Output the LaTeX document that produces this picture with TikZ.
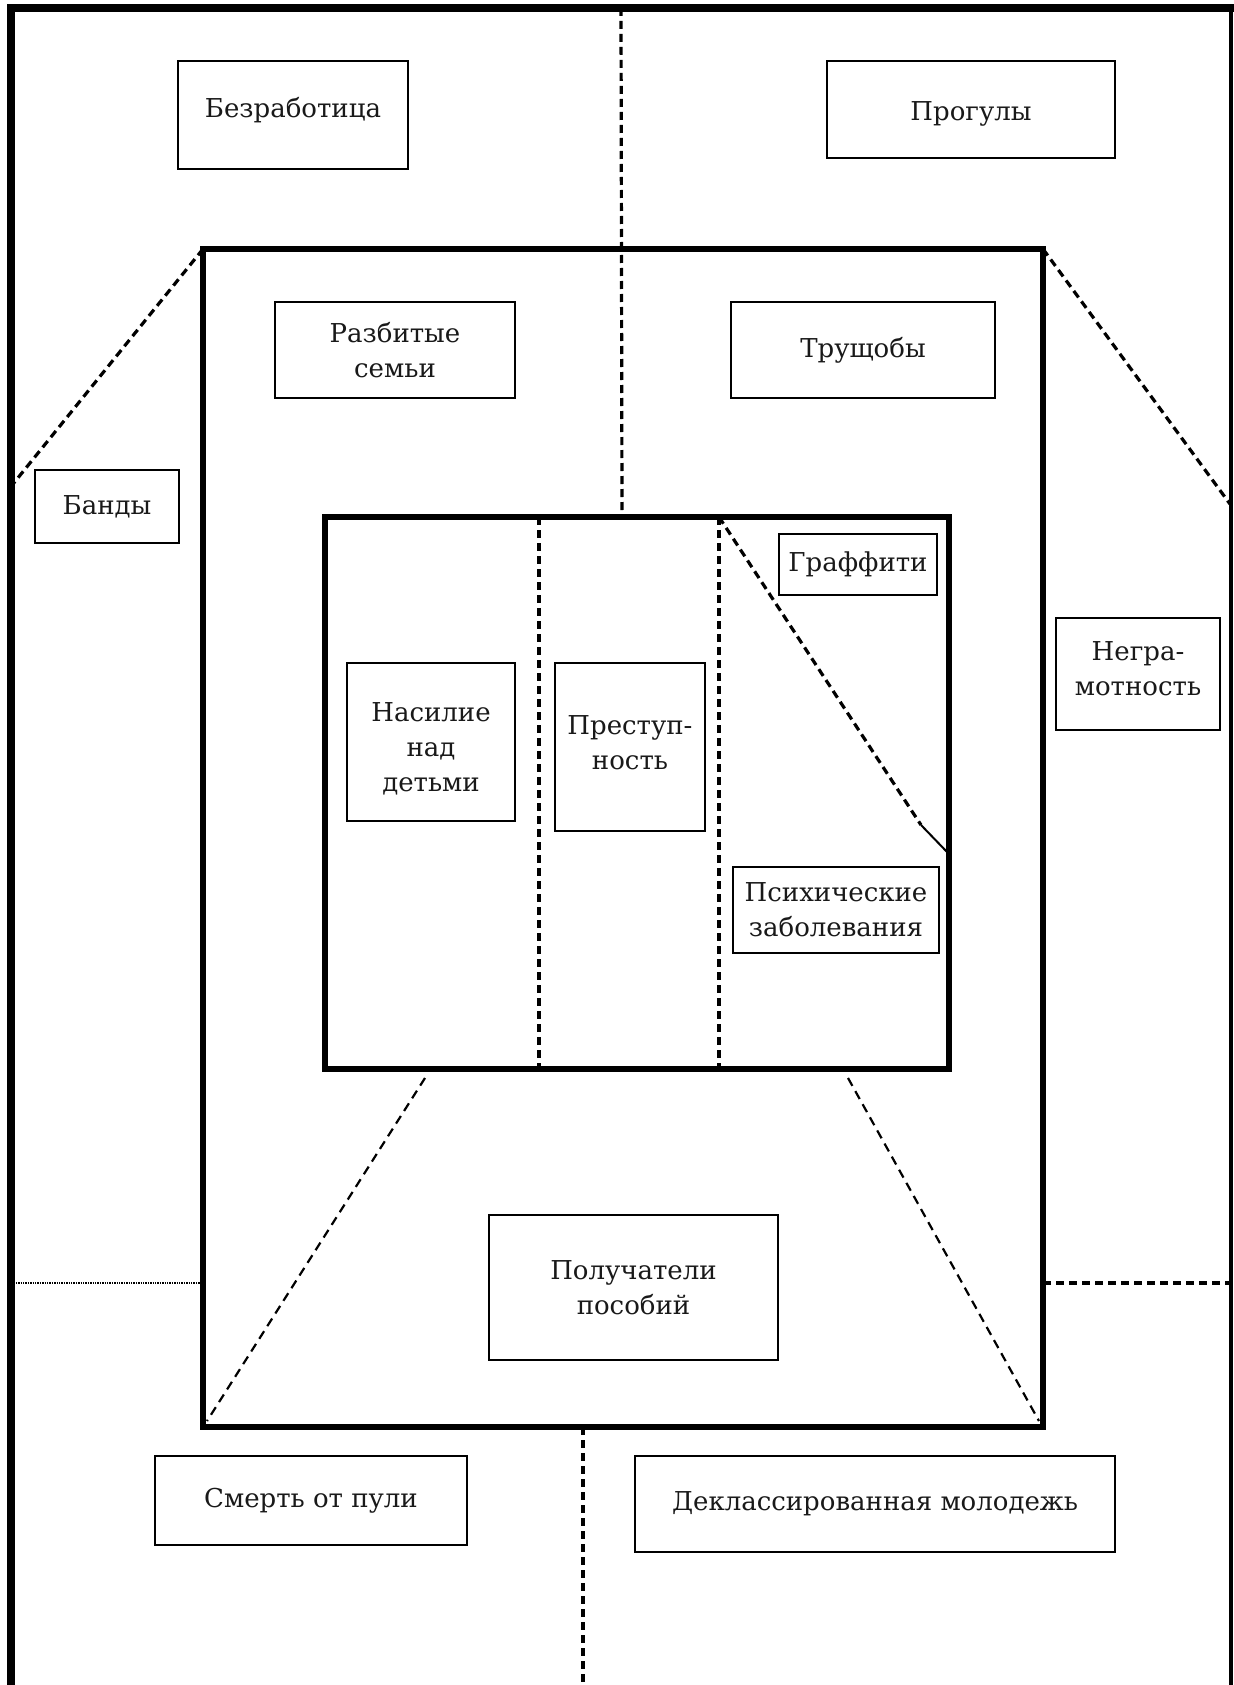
\documentclass[tikz,border=0pt]{standalone}
\usepackage{fontspec}
\setmainfont{DejaVu Serif}
\newcommand{\lift}[2]{\raisebox{#1}[\height][\depth]{#2}}
\newcommand{\stk}[1]{\begin{tabular}{@{}c@{}}#1\end{tabular}}
\begin{document}
\begin{tikzpicture}[x=0.5pt,y=-0.5pt,
  lbl/.style={draw, line width=1pt, inner sep=0pt, align=center,
    font=\fontsize{13}{17.5}\selectfont, text=black!90},
  heavy/.style={line width=4pt},
  frame/.style={line width=3pt, line join=miter},
  dsh/.style={line width=1.6pt, dash pattern=on 4pt off 2.5pt},
  thindsh/.style={line width=1.1pt, dash pattern=on 4.5pt off 3pt},
  dotl/.style={line width=1.4pt, dash pattern=on 0.7pt off 0.5pt}]
\useasboundingbox (0,0) rectangle (1234,1685);
\fill[white] (0,0) rectangle (1234,1685);

% outer frame
\coordinate (oTL) at (11,8);
\coordinate (oBL) at (11,1685);
\coordinate (oTR) at (1234,8);
\coordinate (rT) at (1231,8);
\coordinate (rB) at (1231,1685);
\draw[heavy] (oBL) -- (oTL) -- (oTR);
\draw[line width=1.6pt] (rT) -- (rB);

% middle and inner frames
\coordinate (mTL) at (203,249);
\coordinate (mTR) at (1043,249);
\coordinate (mBR) at (1043,1427);
\coordinate (mBL) at (203,1427);
\coordinate (iTL) at (325,517);
\coordinate (iTR) at (949,517);
\coordinate (iBR) at (949,1069);
\coordinate (iBL) at (325,1069);

% dashed partition lines
\coordinate (topA) at (621,8);
\coordinate (topB) at (622,517);
\draw[dsh] (topA) -- (topB);
\coordinate (v1a) at (539,517);
\coordinate (v1b) at (539,1069);
\coordinate (v2a) at (719,517);
\coordinate (v2b) at (719,1069);
\draw[dsh] (v1a) -- (v1b);
\draw[dsh] (v2a) -- (v2b);
\coordinate (botA) at (583,1427);
\coordinate (botB) at (583,1685);
\draw[dsh] (botA) -- (botB);
\coordinate (ldiag) at (13,484);
\draw[dsh] (mTL) -- (ldiag);
\coordinate (rdiag) at (1230,504);
\draw[dsh] (mTR) -- (rdiag);
\coordinate (llA) at (425,1078);
\coordinate (llB) at (207,1421);
\draw[thindsh] (llA) -- (llB);
\coordinate (lrA) at (848,1078);
\coordinate (lrB) at (1039,1421);
\draw[thindsh] (lrA) -- (lrB);
\coordinate (kink) at (921,825);
\coordinate (kinkEnd) at (948,853);
\draw[dsh] (v2a) -- (kink);
\draw[line width=1pt] (kink) -- (kinkEnd);
\coordinate (hlA) at (11,1283);
\coordinate (hlB) at (203,1283);
\draw[dotl] (hlA) -- (hlB);
\coordinate (hrA) at (1043,1283);
\coordinate (hrB) at (1231,1283);
\draw[dsh] (hrA) -- (hrB);

\draw[frame] (mTL) -- (mTR) -- (mBR) -- (mBL) -- cycle;
\draw[frame] (iTL) -- (iTR) -- (iBR) -- (iBL) -- cycle;

% labelled boxes
\node[lbl, minimum width=115pt, minimum height=54pt] (bez) at (293,115) {\lift{2.5pt}{Безработица}};
\node[lbl, minimum width=144pt, minimum height=48.5pt] (prog) at (971,109.5) {\lift{-2pt}{Прогулы}};
\node[lbl, minimum width=120pt, minimum height=48pt] (razb) at (395,350) {Разбитые\\семьи};
\node[lbl, minimum width=132pt, minimum height=48pt] (trus) at (863,350) {Трущобы};
\node[lbl, minimum width=72pt, minimum height=36.5pt] (band) at (107,506.5) {Банды};
\node[lbl, minimum width=79pt, minimum height=30.5pt] (graf) at (858,564.5) {Граффити};
\node[lbl, minimum width=82pt, minimum height=56pt] (negr) at (1138,674) {\lift{1.5pt}{\stk{Негра-\\мотность}}};
\node[lbl, minimum width=84pt, minimum height=79pt] (nasil) at (431,742) {\lift{-3.5pt}{\stk{Насилие\\над\\детьми}}};
\node[lbl, minimum width=75pt, minimum height=84pt] (prest) at (630,747) {\lift{1pt}{\stk{Преступ-\\ность}}};
\node[lbl, minimum width=103pt, minimum height=43pt] (psych) at (836,910) {Психические\\заболевания};
\node[lbl, minimum width=144.5pt, minimum height=72.5pt] (poluch) at (633.5,1287.5) {Получатели\\пособий};
\node[lbl, minimum width=156pt, minimum height=44.5pt] (smert) at (311,1500.5) {Смерть от пули};
\node[lbl, minimum width=240pt, minimum height=48pt] (dekl) at (875,1504) {Деклассированная молодежь};
\end{tikzpicture}
\end{document}
